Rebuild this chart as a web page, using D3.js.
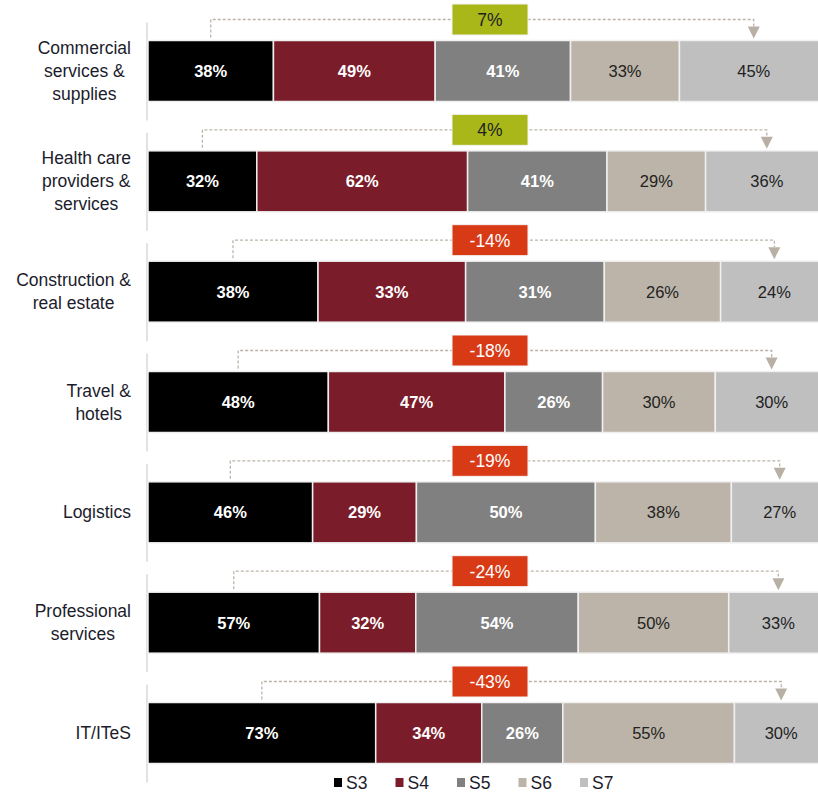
<!DOCTYPE html>
<html><head><meta charset="utf-8">
<script src="https://cdn.jsdelivr.net/npm/d3@7"></script>
<style>body{margin:0;background:#fff;} svg{display:block;font-family:"Liberation Sans",Arial,sans-serif;}</style>
</head><body>
<svg id="c" width="818" height="792"></svg>
<script>
const categories = [
  ["Commercial","services &","supplies"],
  ["Health care","providers &","services"],
  ["Construction &","real estate"],
  ["Travel &","hotels"],
  ["Logistics"],
  ["Professional","services"],
  ["IT/ITeS"]
];
const seriesNames = ["S3","S4","S5","S6","S7"];
const S3 = [38,32,38,48,46,57,73];
const S4 = [49,62,33,47,29,32,34];
const S5 = [41,41,31,26,50,54,26];
const S6 = [33,29,26,30,38,50,55];
const S7 = [45,36,24,30,27,33,30];
const seriesValues = [S3,S4,S5,S6,S7];
const colors = ["#000000","#7a1c2a","#808080","#bcb4a8","#bfbfbf"];
const labelColors = ["#ffffff","#ffffff","#ffffff","#222222","#222222"];

const svg = d3.select("#c");
const x0 = 148, x1 = 828, barH = 61;
const y = d3.scalePoint().domain(d3.range(categories.length)).range([71, 733]);

categories.forEach((cat, i) => {
  const vals = seriesValues.map(s => s[i]);
  const total = d3.sum(vals);
  const x = d3.scaleLinear().domain([0, total]).range([x0, x1]);
  const cy = y(i);
  const top = cy - barH / 2;
  const g = svg.append("g");

  g.append("line").attr("x1", 147).attr("x2", 147)
    .attr("y1", top - 18).attr("y2", top + barH + 19)
    .attr("stroke", "#d9d9d9").attr("stroke-width", 1.5);

  let cum = 0;
  const segs = vals.map((v, k) => { const s = {k, v, a: cum, b: cum + v}; cum += v; return s; });
  g.selectAll("rect").data(segs).join("rect")
    .attr("x", d => x(d.a)).attr("width", d => x(d.b) - x(d.a))
    .attr("y", top).attr("height", barH)
    .attr("fill", d => colors[d.k]).attr("stroke", "#f0f0f0").attr("stroke-width", 1.5);
  g.selectAll("text.v").data(segs).join("text").attr("class", "v")
    .attr("x", d => (x(d.a) + x(d.b)) / 2).attr("y", cy + 6)
    .attr("text-anchor", "middle").attr("font-size", 16.5)
    .attr("font-weight", d => d.k < 3 ? "bold" : "normal")
    .attr("fill", d => labelColors[d.k]).text(d => d.v + "%");

  // category label: block right-aligned, lines centered within block
  const lh = 23;
  const t = g.append("text").attr("text-anchor", "middle").attr("font-size", 17.5).attr("fill", "#1c1c2c");
  const spans = cat.map((ln, j) => t.append("tspan")
    .attr("y", cy + 6 + (j - (cat.length - 1) / 2) * lh).text(ln));
  const maxW = d3.max(spans, s => s.node().getComputedTextLength());
  spans.forEach(s => s.attr("x", 131 - maxW / 2));

  const xs = (x(segs[0].a) + x(segs[0].b)) / 2;
  const xe = (x(segs[4].a) + x(segs[4].b)) / 2;
  const ly = top - 21;
  g.append("path").attr("d", `M${xs},${top - 3}V${ly}H${xe}V${top - 14}`)
    .attr("fill", "none").attr("stroke", "#bcb4a8").attr("stroke-width", 1.3).attr("stroke-dasharray", "3,2");
  g.append("path").attr("d", `M${xe - 6},${top - 14}L${xe + 6},${top - 14}L${xe},${top - 2}Z`).attr("fill", "#b8b0a4");
  const diff = S7[i] - S3[i];
  g.append("rect").attr("x", 452).attr("y", ly - 15.5).attr("width", 76).attr("height", 31)
    .attr("fill", diff >= 0 ? "#a9b818" : "#d93a16").attr("stroke", "#f3f3f3").attr("stroke-width", 1);
  g.append("text").attr("x", 490).attr("y", ly + 6.5).attr("text-anchor", "middle").attr("font-size", 17.5)
    .attr("fill", diff >= 0 ? "#222222" : "#ffffff").text(diff + "%");
});

const lx = d3.scalePoint().domain(seriesNames).range([334, 580]);
const lg = svg.append("g").selectAll("g").data(seriesNames).join("g")
  .attr("transform", d => `translate(${lx(d)},0)`);
lg.append("rect").attr("x", 0).attr("y", 778).attr("width", 8).attr("height", 9)
  .attr("fill", (d, i) => colors[i]);
lg.append("text").attr("x", 12).attr("y", 789).attr("font-size", 17.5).attr("fill", "#1c1c2c").text(d => d);
</script>
</body></html>
